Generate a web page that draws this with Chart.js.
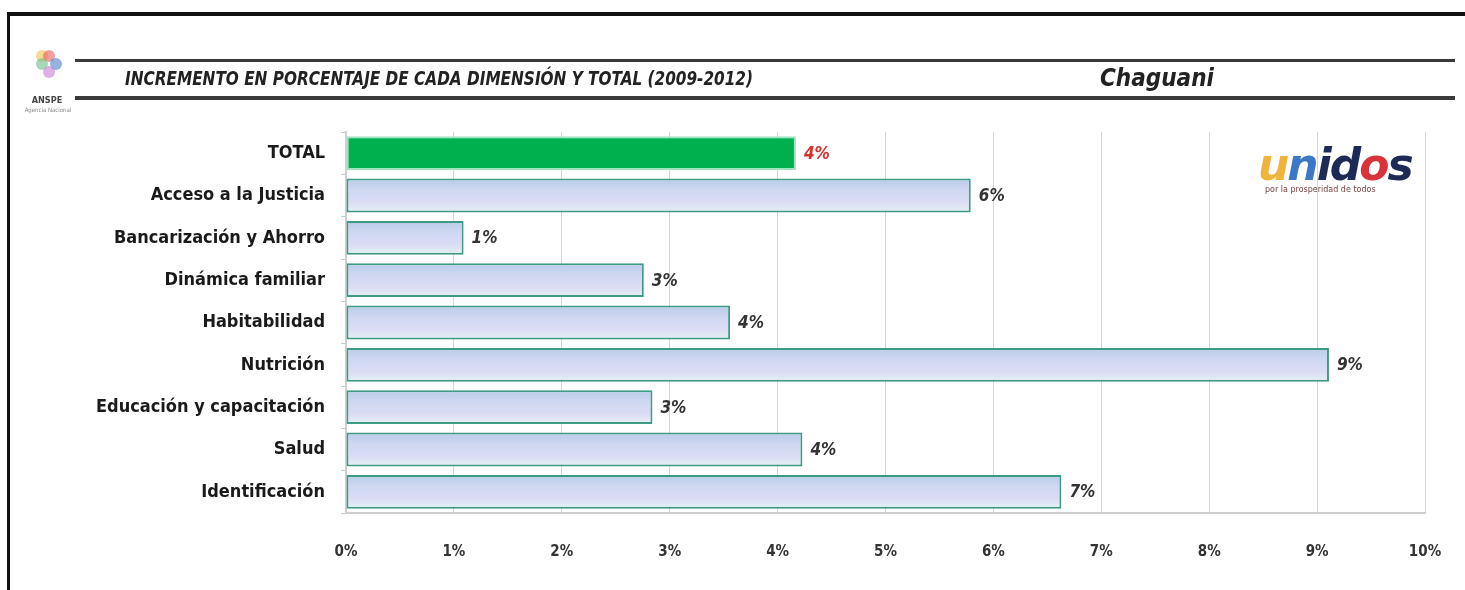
<!DOCTYPE html>
<html>
<head>
<meta charset="utf-8">
<script src="https://cdn.jsdelivr.net/npm/chart.js@4.4.1/dist/chart.umd.min.js"></script>
<style>
  html, body { margin: 0; padding: 0; background: #fff; }
  #wrap { width: 1465px; height: 590px; }
</style>
</head>
<body>
<div id="wrap"><canvas id="grafico" width="1465" height="590"></canvas></div>
<script>
// datos
var categorias = ['TOTAL', 'Acceso a la Justicia', 'Bancarización y Ahorro', 'Dinámica familiar',
  'Habitabilidad', 'Nutrición', 'Educación y capacitación', 'Salud', 'Identificación']
var valores = [4.17, 5.79, 1.09, 2.76, 3.56, 9.11, 2.84, 4.23, 6.63]
var etiquetas = ['4%', '6%', '1%', '3%', '4%', '9%', '3%', '4%', '7%']
var ticksX = [0, 1, 2, 3, 4, 5, 6, 7, 8, 9, 10]

var titulo = 'INCREMENTO EN PORCENTAJE DE CADA DIMENSIÓN Y TOTAL (2009-2012)'
var municipio = 'Chaguani'

var fuenteEtiq = '"Liberation Sans Narrow", "DejaVu Sans Condensed", sans-serif'

// relleno degradado de cada barra (azul claro a lavanda)
function relleno(context) {
  var chart = context.chart
  var y = chart.scales.y
  if (!y || context.dataIndex === undefined) return '#d0d8f0'
  if (context.dataIndex === 0) return '#00b04f'
  var centro = y.getPixelForValue(context.dataIndex)
  var medio = (y.height / categorias.length) * 0.8 / 2
  var g = chart.ctx.createLinearGradient(0, centro - medio, 0, centro + medio)
  g.addColorStop(0, '#b9cbe8')
  g.addColorStop(0.35, '#cfd8f2')
  g.addColorStop(0.7, '#dcdcf4')
  g.addColorStop(1, '#e4f2f4')
  return g
}

var decoracion = {
  id: 'decoracion',
  beforeDraw: function (chart) {
    var c = chart.ctx
    c.save()
    // marco
    c.fillStyle = '#111'
    c.fillRect(8, 12, 1457, 4)
    c.fillRect(7, 12, 3, 578)
    // lineas del encabezado
    c.fillStyle = '#3a3a3a'
    c.fillRect(75, 59, 1380, 3)
    c.fillRect(75, 96, 1380, 4)
    // titulo
    c.fillStyle = '#222'
    c.font = 'italic bold 19px ' + fuenteEtiq
    c.textBaseline = 'middle'
    c.textAlign = 'left'
    c.fillText(titulo, 125, 80, 628)
    c.font = 'italic bold 24px ' + fuenteEtiq
    c.fillText(municipio, 1100, 80)
    // logo ANSPE
    var cols = ['#f2c14e', '#e85d5d', '#4f7fd0', '#6cc08a', '#c77dd6']
    for (var i = 0; i < 5; i++) {
      c.fillStyle = cols[i]
      c.globalAlpha = 0.6
      c.beginPath()
      c.arc(42 + (i % 3) * 7, 56 + Math.floor(i / 2) * 8, 6, 0, Math.PI * 2)
      c.fill()
    }
    c.globalAlpha = 1
    c.fillStyle = '#444'
    c.font = 'bold 9px ' + fuenteEtiq
    c.textAlign = 'center'
    c.fillText('ANSPE', 47, 101)
    c.font = '6px ' + fuenteEtiq
    c.fillStyle = '#888'
    c.fillText('Agencia Nacional', 48, 110)
    // logo unidos
    c.textAlign = 'left'
    c.textBaseline = 'alphabetic'
    c.font = 'italic bold 44px "DejaVu Sans", sans-serif'
    var letras = [['u', '#f0b43c'], ['n', '#3d78c6'], ['i', '#1d2a55'], ['d', '#1d2a55'], ['o', '#d9323a'], ['s', '#1d2a55']]
    var x = 1258
    letras.forEach(function (l) {
      c.fillStyle = l[1]
      c.fillText(l[0], x, 180)
      x += c.measureText(l[0]).width - 2
    })
    c.font = '8px "DejaVu Sans", sans-serif'
    c.fillStyle = '#7a4040'
    c.fillText('por la prosperidad de todos', 1265, 192)
    c.restore()
  },
  afterDatasetsDraw: function (chart) {
    var c = chart.ctx
    var meta = chart.getDatasetMeta(0)
    c.save()
    c.font = 'italic bold 17px ' + fuenteEtiq
    c.textBaseline = 'middle'
    c.textAlign = 'left'
    meta.data.forEach(function (bar, i) {
      c.fillStyle = i === 0 ? '#d9302c' : '#333'
      c.fillText(etiquetas[i], bar.x + 8, bar.y + 1)
    })
    c.restore()
  }
}

var ctx = document.getElementById('grafico').getContext('2d')

var grafico = new Chart(ctx, {
  type: 'bar',
  data: {
    labels: categorias,
    datasets: [
      {
        label: 'Incremento',
        data: valores,
        backgroundColor: relleno,
        borderColor: function (context) {
          return context.dataIndex === 0 ? '#9fe3c0' : '#3f9a84'
        },
        borderWidth: 2,
        borderSkipped: false,
        barPercentage: 0.8,
        categoryPercentage: 1,
      },
    ],
  },
  options: {
    indexAxis: 'y',
    responsive: false,
    animation: false,
    layout: {
      padding: { top: 132, right: 40, bottom: 17, left: 0 },
    },
    plugins: {
      legend: { display: false },
      tooltip: { enabled: false },
    },
    scales: {
      x: {
        min: 0,
        max: 10,
        afterBuildTicks: function (scale) {
          scale.ticks = ticksX.map(function (v) { return { value: v } })
        },
        afterFit: function (scale) {
          scale.height = 60
          scale.paddingLeft = 0
          scale.paddingRight = 0
        },
        ticks: {
          padding: 30,
          color: '#333',
          font: { family: fuenteEtiq, size: 15, weight: 'bold' },
          callback: function (v) { return v + '%' },
        },
        grid: {
          color: '#d6d6d6',
          lineWidth: 1,
          tickLength: 0,
        },
        border: { color: '#cfcfcf', width: 2 },
      },
      y: {
        afterFit: function (scale) {
          scale.width = 346
        },
        ticks: {
          padding: 16,
          color: '#1a1a1a',
          font: { family: fuenteEtiq, size: 18, weight: 'bold' },
        },
        grid: {
          display: true,
          drawOnChartArea: false,
          offset: true,
          tickLength: 5,
          color: '#c8c8c8',
        },
        border: { color: '#cfcfcf', width: 2 },
      },
    },
  },
  plugins: [decoracion],
})
</script>
</body>
</html>
